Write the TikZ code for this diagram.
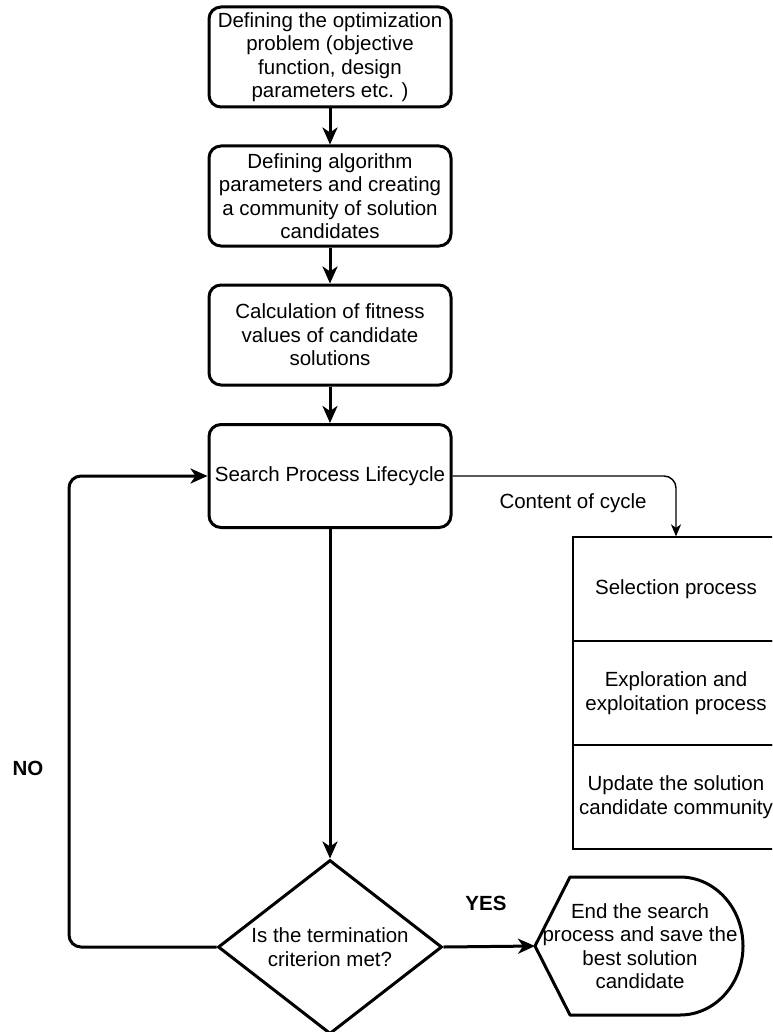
\documentclass[tikz,border=0pt]{standalone}
\usepackage{fontspec}
\setmainfont{Liberation Sans}
\usetikzlibrary{arrows.meta,positioning,calc,shapes.geometric}

\begin{document}
\begin{tikzpicture}[
  x=1pt,y=-1pt,
  font=\fontsize{20.5}{23.5}\selectfont,
  procbox/.style={rectangle,draw,rounded corners=12pt,line width=3pt,minimum width=242pt,minimum height=100pt,align=center,inner sep=2pt},
  decision/.style={diamond,draw,line width=3pt,minimum width=224pt,minimum height=174pt,aspect=1.29,inner sep=0pt,align=center},
  cyclerow/.style={rectangle,draw,line width=1.3pt,minimum width=206pt,minimum height=104pt,align=center,inner sep=2pt},
  arrow/.style={-{Stealth[length=17pt,width=15pt,inset=5pt]},line width=3pt},
  thinarrow/.style={-{Stealth[length=12pt,width=10pt,inset=3.5pt]},line width=1.4pt,rounded corners=12pt}
]
\useasboundingbox (0,0) rectangle (772,1032);
\clip (0,0) rectangle (772,1032);

% Main flow (top to bottom)
\node[procbox] (define) at (330,57) {Defining the optimization\\problem (objective\\function, design\\parameters etc. )};
\node[procbox] (params) at (330,196) {Defining algorithm\\parameters and creating\\a community of solution\\candidates};
\node[procbox] (fitness) at (330,335) {Calculation of fitness\\values of candidate\\solutions};
\node[procbox,minimum height=103pt] (search) at (330,476) {Search Process Lifecycle};
\node[decision] (check) at (330,947) {Is the termination\\criterion met?};

% End of search (display shape)
\node[align=center] (finish) at (640,946) {End the search\\process and save the\\best solution\\candidate};
\coordinate (finishtip) at (535,946);
\draw[line width=3pt,line join=round] (finishtip) -- (570,877) -- (680,877)
  .. controls (714.8,877) and (743,907.9) .. (743,946)
  .. controls (743,984.1) and (714.8,1015) .. (680,1015) -- (570,1015) -- cycle;

% Content of cycle
\node[cyclerow] (select) at (676,589) {Selection process};
\node[cyclerow] (explore) at (676,693) {Exploration and\\exploitation process};
\node[cyclerow] (update) at (676,797) {Update the solution\\candidate community};

% Arrows
\draw[arrow] (define) -- (params);
\draw[arrow] (params) -- (fitness);
\draw[arrow] (fitness) -- (search);
\draw[arrow] (search) -- (check);
\draw[arrow] (check.east) -- (finishtip);
\draw[thinarrow] (search.east) -| (select.north);

% NO loop back to the search
\coordinate (nobend) at (69,947);
\draw[arrow,rounded corners=12pt] (check.west) -- (nobend) |- (search.west);

% Labels
\node (cyclelbl) at (573,503) {Content of cycle};
\node[font=\fontsize{20.5}{23.5}\selectfont\bfseries] (nolbl) at (28,768) {NO};
\node[font=\fontsize{20.5}{23.5}\selectfont\bfseries] (yeslbl) at (486,903) {YES};

\end{tikzpicture}
\end{document}
